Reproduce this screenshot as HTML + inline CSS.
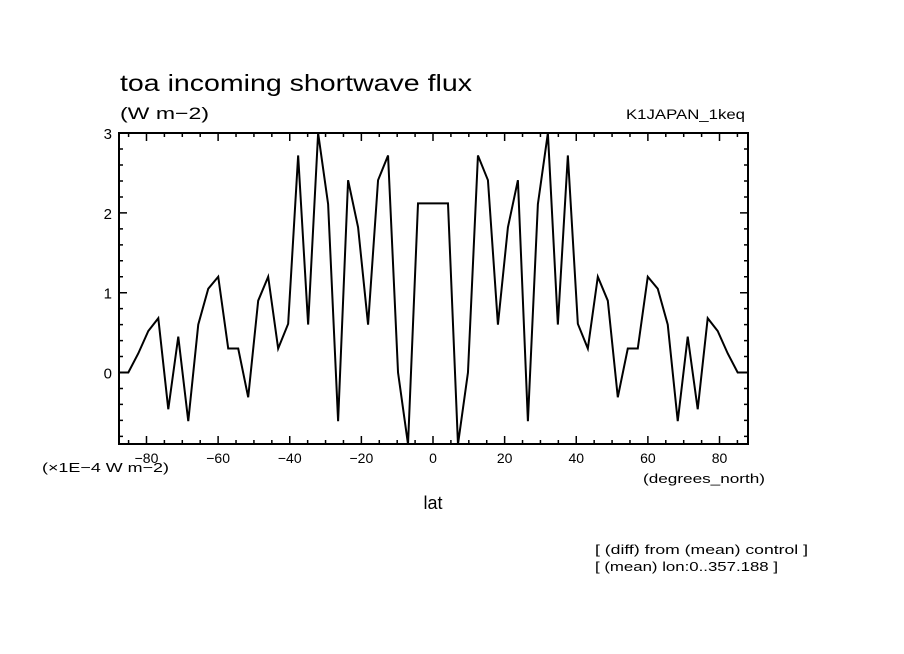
<!DOCTYPE html>
<html><head><meta charset="utf-8"><style>
body{margin:0;background:#fff}
svg{display:block}
text{font-family:"Liberation Sans","DejaVu Sans",sans-serif;fill:#000}
</style></head><body>
<svg id="chart" width="904" height="654" xmlns="http://www.w3.org/2000/svg">
<rect width="904" height="654" fill="#fff"/>
<text x="120" y="91" font-size="23" textLength="352" lengthAdjust="spacingAndGlyphs">toa incoming shortwave flux</text>
<text x="120" y="119" font-size="17" textLength="89" lengthAdjust="spacingAndGlyphs">(W m−2)</text>
<text x="626" y="119" font-size="14" textLength="119" lengthAdjust="spacingAndGlyphs">K1JAPAN_1keq</text>
<text x="42" y="472" font-size="13" textLength="127" lengthAdjust="spacingAndGlyphs">(×1E−4 W m−2)</text>
<text x="643" y="483" font-size="13" textLength="122" lengthAdjust="spacingAndGlyphs">(degrees_north)</text>
<text x="433" y="509" font-size="18" text-anchor="middle">lat</text>
<text x="595" y="554" font-size="13" textLength="213" lengthAdjust="spacingAndGlyphs">[ (diff) from (mean) control ]</text>
<text x="595" y="571" font-size="13" textLength="183" lengthAdjust="spacingAndGlyphs">[ (mean) lon:0..357.188 ]</text>
<g id="axes"></g>
<g id="plot"></g>
</svg>
<script>
const halfValues = [0,0,0.24,0.52,0.68,-0.46,0.45,-0.61,0.6,1.05,1.2,0.3,0.3,-0.31,0.9,1.2,0.3,0.61,2.72,0.6,3.0,2.11,-0.61,2.41,1.82,0.6,2.41,2.72,0,-0.9,2.12,2.12];
const values = halfValues.concat(halfValues.slice().reverse());
const lats = values.map((v,i)=> -87.86 + i*(175.72/63));
const xTicks = [-80,-60,-40,-20,0,20,40,60,80];
const yTicks = [0,1,2,3];
const X0=119,X1=748,Y0=133,Y1=444;
const xs = lat => 433 + lat*3.5814;
const ys = v => 372.5 - v*79.8;
const NS="http://www.w3.org/2000/svg";
const axes=document.getElementById('axes'), plot=document.getElementById('plot');
function el(tag,attrs,parent){const e=document.createElementNS(NS,tag);for(const k in attrs)e.setAttribute(k,attrs[k]);parent.appendChild(e);return e;}
const frame=el('rect',{x:X0,y:Y0,width:X1-X0,height:Y1-Y0,fill:'none',stroke:'#000','stroke-width':2},axes);


for(let d=-85;d<=85;d+=5){
  const x=xs(d), major=(d%20===0), L=major?8:4;
  const t=el('path',{d:`M${x},${Y1}v${-L}M${x},${Y0}v${L}`,stroke:'#000','stroke-width':1.5},axes);
  
  
}
xTicks.forEach(d=>{
  const t=el('text',{x:xs(d),y:Y1+19,'font-size':14,'text-anchor':'middle'},axes);
  t.textContent=d<0?'−'+(-d):String(d);
  
  
});
for(let k=-4;k<=15;k++){
  const v=k*0.2, y=ys(v); if(y<Y0-1||y>Y1) continue;
  const major=(k%5===0), L=major?8:4;
  const t=el('path',{d:`M${X0},${y}h${L}M${X1},${y}h${-L}`,stroke:'#000','stroke-width':1.5},axes);
  
  
}
yTicks.forEach(v=>{
  const t=el('text',{x:X0-7,y:ys(v)+6,'font-size':15,'text-anchor':'end'},axes);
  t.textContent=String(v);
  
  
});
const cp=el('clipPath',{id:'clip'},plot);
el('rect',{x:X0,y:Y0,width:X1-X0,height:Y1-Y0},cp);
const line=el('polyline',{points:values.map((v,i)=>xs(lats[i])+','+ys(v)).join(' '),fill:'none',stroke:'#000','stroke-width':2,'clip-path':'url(#clip)'},plot);


</script>
</body></html>
